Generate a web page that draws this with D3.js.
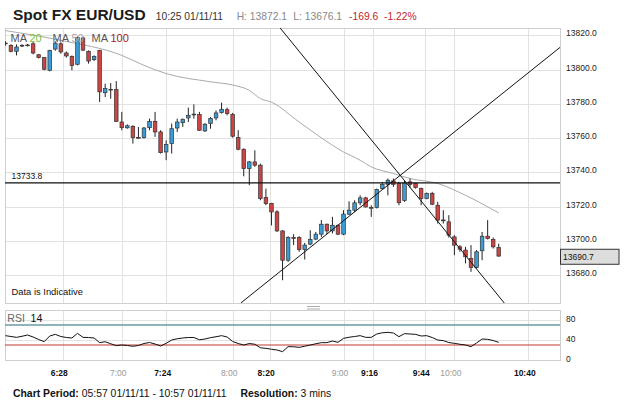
<!DOCTYPE html>
<html><head><meta charset="utf-8">
<script src="https://cdn.jsdelivr.net/npm/d3@7"></script>
<style>body{margin:0;background:#fff}svg{display:block}text{font-family:Arial,"Liberation Sans",sans-serif}</style>
</head><body><svg id="c" width="625" height="404"></svg>
<script>
// ---- data ----
const startMinute = 357;       // 05:57
const endMinute = 657;         // 10:57
const stepMinutes = 3;
const open  = [13815.5,13814.2,13810.7,13814.2,13814.4,13815.1,13808.7,13807,13799.6,13812,13815.1,13809.7,13807.7,13803.1,13818.5,13810.7,13805.8,13811.2,13786.5,13788.5,13788.3,13769.4,13766,13766.9,13760.4,13760.3,13766.1,13769.8,13763.6,13751.9,13756.8,13765.9,13769,13771.8,13773.9,13773.7,13764.2,13768.5,13771.8,13774.9,13776.6,13773.9,13760.3,13753.5,13742.2,13746.1,13744.2,13725.3,13721.8,13716.9,13705.8,13688.7,13701.9,13701.9,13694.9,13698.1,13701,13703.9,13709.7,13705.8,13709.1,13703.9,13715.6,13717.9,13722.2,13725.1,13719.5,13719.5,13730.5,13733,13735,13733.5,13723.5,13734.4,13733.5,13730.5,13724.7,13727.6,13720.8,13712.2,13711.1,13702.3,13696.5,13694.6,13689.7,13684.4,13694.2,13702.7,13700.8,13696.1];
const high  = [13816.5,13814.8,13814.7,13814.8,13815,13816.1,13809,13807.4,13811.6,13816.5,13816,13810.6,13808.3,13819.3,13819.3,13811.2,13808.3,13811.6,13791.8,13792.2,13793.3,13775.3,13768,13767.5,13766.5,13766.5,13771.4,13775.3,13764.6,13758.7,13768.5,13771.4,13771.4,13777.8,13779.7,13775.3,13768.8,13772.3,13776.2,13780.7,13777.8,13774.7,13764.6,13754,13746.7,13752.9,13745.1,13730.5,13722.2,13717.9,13706.2,13702.7,13703.9,13702.7,13698.8,13706.2,13705.2,13712.1,13710.1,13714,13709.5,13717.9,13723.1,13723.7,13726.6,13725.7,13720.8,13730.5,13734.4,13736.4,13736.4,13734.5,13735,13736.4,13733.8,13731.1,13728.2,13728.6,13722.8,13717.9,13715,13703.3,13697.5,13696.5,13697.5,13694.6,13705.2,13712.1,13701.9,13698.4];
const low   = [13814,13810.1,13808.3,13813.2,13813.5,13808.9,13806.5,13799.6,13799,13811,13809.3,13807,13799.6,13802.5,13810.8,13803.5,13805,13781.1,13784,13783,13769.4,13764.6,13765.5,13756.8,13759.7,13759.7,13764.6,13760.7,13751,13747.1,13751,13763.6,13766.5,13769.4,13771.4,13764.2,13763.6,13765.5,13770.4,13774.3,13773.3,13760.3,13752.9,13737.7,13732.5,13743.2,13723.7,13720.8,13709,13705.2,13677,13687.7,13697.5,13693.6,13689.1,13697.5,13700.4,13702.3,13703.9,13704.3,13703.3,13703.3,13715,13716.9,13720.8,13719.5,13714,13718.9,13729.9,13726.6,13731.5,13720.8,13722.8,13731.1,13730.5,13720.8,13724.3,13720.8,13710.1,13710.1,13701.9,13691.6,13693.6,13686.8,13681.9,13683.8,13688.7,13700.8,13695.5,13690.7];
const close = [13815.2,13810.7,13813.2,13814,13814.2,13809.7,13807,13800.2,13811.2,13815.5,13810.3,13808,13802.5,13818.7,13811.4,13805,13807.7,13787,13788.9,13788.3,13769.8,13766.1,13767.2,13760.3,13760.2,13765.9,13769.8,13763.6,13751.5,13756.2,13765.5,13769.4,13771,13773.3,13774,13764.6,13768.1,13771.4,13774.7,13776.8,13774.3,13761.1,13753.5,13742.2,13746.1,13744.2,13724.7,13721.8,13716.9,13705.8,13688.7,13701.9,13701.7,13694.9,13697.5,13700.8,13703.9,13709.7,13705.8,13709.1,13703.9,13715.6,13717.9,13722.2,13725.1,13719.8,13719.3,13729.9,13732.9,13735.4,13733,13722.3,13733.8,13733,13731.1,13724.7,13727.6,13721.4,13712.1,13712,13703.3,13697.5,13695.1,13690.7,13684.4,13693.6,13702.7,13701.4,13696.5,13691.1];
const maIndex = [0,10,21,25,29,37,41,44,46,48,53,61,64,66,70,73,78,83,89];
const maValue = [13822.8,13817.1,13808.3,13802.5,13797.7,13792.9,13791,13787.9,13783.1,13781,13769.4,13751.9,13747.1,13743.2,13739.3,13736.4,13733.5,13726.6,13716.3];
const rsi = [48.7,47,45.3,47.5,50,46,41,36.7,48,51.3,47,45,44,53.3,45.3,45,44,34.7,36.5,32.5,28.7,30,29,27.5,29,33,35,32,28,33.3,40,42.5,44,45,45,40.5,42,44.7,46.5,48.7,46,37,33,30,33,31.5,24.5,23.3,21.5,20,16.7,26.7,26.5,25.3,27.5,30,32.5,34.7,34.7,38,35.3,43.3,45.5,47,48.7,45.3,45.3,52,54.5,55.3,54,46.7,52.7,52,51.3,48,48.7,45,40,38.7,35,33.3,31.5,30,26.7,34,42,41.3,39,35.3];
const priceTicks = [13820,13800,13780,13760,13740,13720,13700,13680];
const rsiTicks = [80,40,0];
const rsiUpper = 70, rsiLower = 30;
const timeTickMinutes = [388,420,444,480,500,540,556,584,600,640];
const timeTickLabels = ["6:28","7:00","7:24","8:00","8:20","9:00","9:16","9:44","10:00","10:40"];
const timeTickMajor = [true,false,true,false,true,false,true,true,false,true];
const hLineValue = 13733.8;
const lastPrice = 13690.7;
const trendA = [[505.7,13824.3],[627,13663.7]];
const trendB = [[484.4,13663.7],[657.2,13813.0]];

// ---- layout ----
const svg = d3.select("#c");
const L = 5, R = 560, T = 28, B = 303, RT = 310, RB = 360;
const x = d3.scaleLinear().domain([startMinute, endMinute]).range([5.4, 559.7]);
const y = d3.scaleLinear().domain([13663.7, 13824.3]).range([B, T]);
const yr = d3.scaleLinear().domain([0, 100]).range([RB, RT]);
const tOf = i => startMinute + stepMinutes * i;

const defs = svg.append("defs");
defs.append("clipPath").attr("id","mainClip").append("rect").attr("x",L).attr("y",T).attr("width",R-L).attr("height",B-T);

// header
const hdr = svg.append("g");
hdr.append("text").attr("x",13).attr("y",20).attr("font-size",15.5).attr("font-weight","bold").attr("fill","#1a1a1a").text("Spot FX EUR/USD");
hdr.append("text").attr("x",155.7).attr("y",19.5).attr("font-size",10.3).attr("fill","#333").text("10:25 01/11/11");
hdr.append("text").attr("x",236.7).attr("y",19.5).attr("font-size",10.3).attr("fill","#888").text("H: 13872.1");
hdr.append("text").attr("x",293.3).attr("y",19.5).attr("font-size",10.3).attr("fill","#888").text("L: 13676.1");
hdr.append("text").attr("x",349).attr("y",19.5).attr("font-size",10.3).attr("fill","#c0272d").text("-169.6");
hdr.append("text").attr("x",384).attr("y",19.5).attr("font-size",10.3).attr("fill","#c0272d").text("-1.22%");

// grids
const grid = svg.append("g").attr("stroke","#e2e2e2").attr("stroke-width",1);
grid.selectAll("line.h").data(priceTicks).join("line").attr("x1",L).attr("x2",R)
  .attr("y1",d=>Math.round(y(d))+0.5).attr("y2",d=>Math.round(y(d))+0.5);
grid.selectAll("line.v").data(timeTickMinutes).join("line")
  .attr("x1",d=>Math.round(x(d))+0.5).attr("x2",d=>Math.round(x(d))+0.5).attr("y1",T).attr("y2",B);
grid.selectAll("line.rv").data(timeTickMinutes).join("line")
  .attr("x1",d=>Math.round(x(d))+0.5).attr("x2",d=>Math.round(x(d))+0.5).attr("y1",RT).attr("y2",RB);
grid.selectAll("line.rh").data([80,40]).join("line").attr("x1",L).attr("x2",R)
  .attr("y1",d=>Math.round(yr(d))+0.5).attr("y2",d=>Math.round(yr(d))+0.5);

// frames
svg.append("rect").attr("x",L+0.5).attr("y",T+0.5).attr("width",R-L).attr("height",B-T).attr("fill","none").attr("stroke","#cfcfcf");
svg.append("rect").attr("x",L+0.5).attr("y",RT+0.5).attr("width",R-L).attr("height",RB-RT).attr("fill","none").attr("stroke","#cfcfcf");

// price axis labels
svg.append("g").selectAll("text").data(priceTicks).join("text")
  .attr("x",566).attr("y",d=>y(d)+1).attr("font-size",8.5).attr("fill","#222").text(d=>d.toFixed(1));

const main = svg.append("g").attr("clip-path","url(#mainClip)");

// MA line
main.append("path").datum(maIndex.map((d,k)=>[tOf(d),maValue[k]]))
  .attr("fill","none").attr("stroke","#aaa").attr("stroke-width",1)
  .attr("d",d3.line().x(d=>x(d[0])).y(d=>y(d[1])).curve(d3.curveMonotoneX));

// candles
const cw = 3.6;
const cg = main.append("g");
open.forEach((o,i)=>{
  const c = close[i], cx = x(tOf(i));
  const up = c >= o;
  const g = cg.append("g");
  g.append("line").attr("x1",cx).attr("x2",cx).attr("y1",y(high[i])).attr("y2",y(low[i])).attr("stroke","#222").attr("stroke-width",1);
  const top = y(Math.max(o,c)), bot = y(Math.min(o,c));
  const h = Math.max(bot-top, 0.8);
  g.append("rect").attr("x",cx-cw/2).attr("y",top).attr("width",cw).attr("height",h)
    .attr("fill", up ? "#3a9bd5" : "#cc4444").attr("stroke","#333").attr("stroke-width",0.7);
});

// horizontal line and trend lines
main.append("line").attr("x1",L).attr("x2",R).attr("y1",y(hLineValue)).attr("y2",y(hLineValue)).attr("stroke","#111").attr("stroke-width",1.2);
[trendA,trendB].forEach(tl=>{
  main.append("line").attr("x1",x(tl[0][0])).attr("y1",y(tl[0][1])).attr("x2",x(tl[1][0])).attr("y2",y(tl[1][1]))
    .attr("stroke","#111").attr("stroke-width",1);
});
svg.append("text").attr("x",11.5).attr("y",y(hLineValue)-4).attr("font-size",8.5).attr("fill","#111").text(hLineValue.toFixed(1));

// legend
const lg = svg.append("text").attr("x",10.5).attr("y",41.5).attr("font-size",11);
lg.append("tspan").attr("fill","#555").text("MA ");
lg.append("tspan").attr("fill","#7cc032").text("20");
lg.append("tspan").attr("x",52.5).attr("fill","#555").text("MA ");
lg.append("tspan").attr("fill","#aaa").text("50");
lg.append("tspan").attr("x",91.5).attr("fill","#555").text("MA ");
lg.append("tspan").attr("fill","#a31d1d").text("100");

svg.append("text").attr("x",11.5).attr("y",295).attr("font-size",9.4).attr("font-family","'DejaVu Sans',Verdana,sans-serif").attr("fill","#111").text("Data is Indicative");

// last price box
svg.append("rect").attr("x",560.5).attr("y",y(lastPrice)-7.5).attr("width",58.5).attr("height",15).attr("fill","#ddd").attr("stroke","#333");
svg.append("text").attr("x",563).attr("y",y(lastPrice)+3).attr("font-size",8.5).attr("fill","#111").text(lastPrice.toFixed(1));

// grip
svg.append("g").attr("stroke","#aaa").selectAll("line").data([306.5,309]).join("line")
  .attr("x1",307).attr("x2",320).attr("y1",d=>d).attr("y2",d=>d);

// RSI panel
const rl = svg.append("text").attr("x",7.3).attr("y",322).attr("font-size",10.6);
rl.append("tspan").attr("fill","#666").text("RSI");
rl.append("tspan").attr("x",30.5).attr("fill","#111").text("14");
svg.append("line").attr("x1",L).attr("x2",R).attr("y1",yr(rsiUpper)).attr("y2",yr(rsiUpper)).attr("stroke","#6d98a3").attr("stroke-width",1.5);
svg.append("line").attr("x1",L).attr("x2",R).attr("y1",yr(rsiLower)).attr("y2",yr(rsiLower)).attr("stroke","#c0392b").attr("stroke-width",1.2);
svg.append("path").datum(rsi).attr("fill","none").attr("stroke","#111").attr("stroke-width",1)
  .attr("d",d3.line().x((d,i)=>x(tOf(i))).y(d=>yr(d)));
svg.append("g").selectAll("text").data(rsiTicks).join("text")
  .attr("x",566).attr("y",d=>yr(d)+2).attr("font-size",8.5).attr("fill","#222").text(d=>d);

// time axis
svg.append("g").selectAll("text").data(timeTickMinutes).join("text")
  .attr("x",d=>x(d)-3.5).attr("y",376).attr("text-anchor","middle").attr("font-size",8.5)
  .attr("font-weight",(d,i)=>timeTickMajor[i]?"bold":"normal")
  .attr("fill",(d,i)=>timeTickMajor[i]?"#111":"#999")
  .text((d,i)=>timeTickLabels[i]);

// footer
const ft = svg.append("text").attr("x",13).attr("y",397).attr("font-size",10.4).attr("fill","#111");
ft.append("tspan").attr("font-weight","bold").text("Chart Period:");
ft.append("tspan").text(" 05:57 01/11/11 - 10:57 01/11/11");
const ft2 = svg.append("text").attr("x",240.5).attr("y",397).attr("font-size",10.4).attr("fill","#111");
ft2.append("tspan").attr("font-weight","bold").text("Resolution:");
ft2.append("tspan").text(" 3 mins");
</script></body></html>
